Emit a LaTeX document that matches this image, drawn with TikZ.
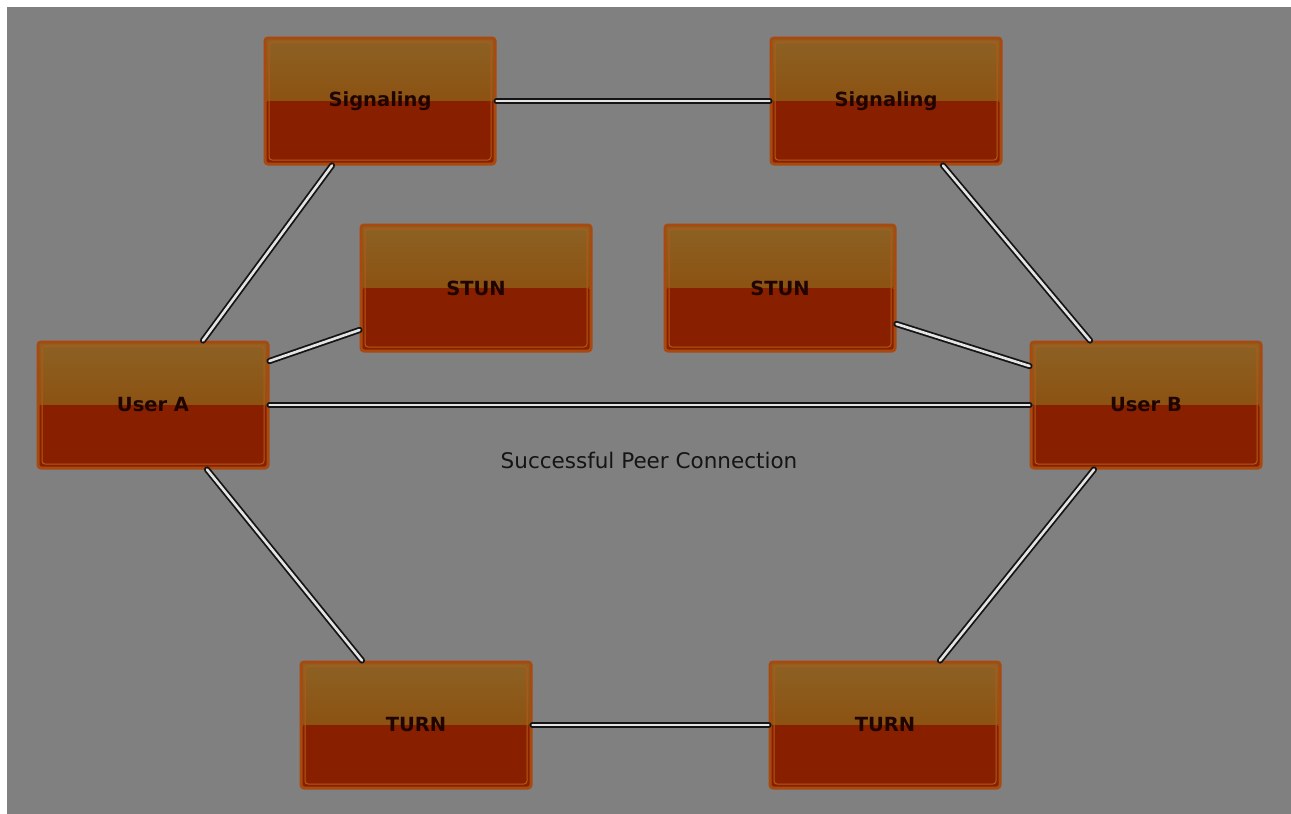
\documentclass[tikz,border=0pt]{standalone}
\usepackage{fontspec}
\setmainfont{DejaVu Sans}
\definecolor{canvas}{RGB}{128,128,128}
\definecolor{boxtop}{RGB}{140,98,36}
\definecolor{boxmid}{RGB}{139,66,0}
\definecolor{boxlow}{RGB}{136,32,0}
\definecolor{boxrim}{RGB}{168,74,16}
\definecolor{boxinner}{RGB}{180,90,24}
\definecolor{boxtext}{RGB}{32,4,0}
\definecolor{labeltext}{RGB}{20,20,20}
\definecolor{linkfill}{RGB}{228,228,228}
\tikzset{
  peerbox/.style={rectangle, rounded corners=3pt, minimum width=230pt,
    minimum height=126pt, draw=boxrim, line width=3pt, text=boxtext,
    font=\bfseries\fontsize{19.5}{23}\selectfont,
    path picture={
      \fill[top color=boxtop, bottom color=boxmid]
        (path picture bounding box.north west) rectangle (path picture bounding box.east);
      \fill[boxlow]
        (path picture bounding box.west) rectangle (path picture bounding box.south east);
      \draw[boxinner, line width=1pt]
        ([shift={(4pt,-4pt)}]path picture bounding box.north west) rectangle
        ([shift={(-4pt,4pt)}]path picture bounding box.south east);
    }},
  link/.style={draw=black!92, line width=1.8pt, double=linkfill,
    double distance=2.6pt, line cap=round},
}
\begin{document}
\begin{tikzpicture}[x=1pt, y=-1pt]
  % canvas
  \fill[white] (0,0) rectangle (1291,814);
  \fill[canvas] (7,7) rectangle (1291,814);
  \useasboundingbox (0,0) rectangle (1291,814);

  % servers and peers
  \node[peerbox] (sigA)  at (380,101)  {Signaling};
  \node[peerbox] (sigB)  at (886,101)  {Signaling};
  \node[peerbox] (stunA) at (476,288)  {STUN};
  \node[peerbox] (stunB) at (780,288)  {STUN};
  \node[peerbox] (userA) at (153,405)  {User A};
  \node[peerbox] (userB) at (1146,405) {User B};
  \node[peerbox] (turnA) at (416,725)  {TURN};
  \node[peerbox] (turnB) at (885,725)  {TURN};

  % links
  \draw[link] (sigA.east) -- (sigB.west);
  \draw[link] ([xshift=-48pt]sigA.south) -- ([xshift=50pt]userA.north);
  \draw[link] ([yshift=-42pt]stunA.west) -- ([yshift=44pt]userA.east);
  \draw[link] (userA.east) -- (userB.west);
  \draw[link] ([xshift=57pt]sigB.south) -- ([xshift=-56pt]userB.north);
  \draw[link] ([yshift=-36pt]stunB.east) -- ([yshift=39pt]userB.west);
  \draw[link] ([xshift=54pt]userA.south) -- ([xshift=-54pt]turnA.north);
  \draw[link] (turnA.east) -- (turnB.west);
  \draw[link] ([xshift=-52pt]userB.south) -- ([xshift=55pt]turnB.north);

  \node[text=labeltext, font=\fontsize{21.5}{26}\selectfont] (peer) at (649,460)
    {Successful Peer Connection};
\end{tikzpicture}
\end{document}
